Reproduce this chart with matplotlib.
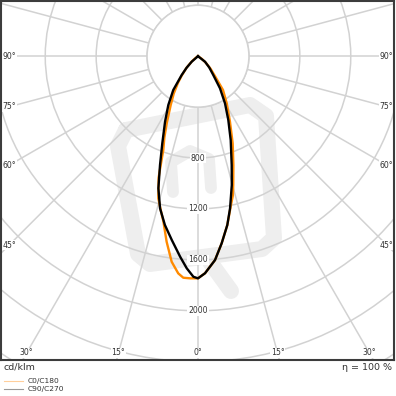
import numpy as np
import matplotlib
matplotlib.use('Agg')
from matplotlib import pyplot as plt
from matplotlib.patches import Circle

# luminous intensity in cd/klm, gamma in degrees from nadir
g_c0 = [0, 1.85, 4.77, 7.2, 9.85, 12.5, 14.0, 15.3, 18.0, 21.7, 26.0, 31.4,
        36.5, 40, 45, 50, 55, 60, 90]
i_c0 = [1745, 1706, 1607, 1482, 1346, 1197, 1130, 1049, 899, 737, 573, 433,
        330, 215, 140, 80, 35, 0, 0]
g_c180 = [0, 2.0, 3.8, 5.2, 7.3, 9.6, 11.8, 13.7, 15.6, 18.0, 20.3, 22.5, 25.0,
          29.2, 33.0, 37.0, 40, 45, 50, 55, 60, 90]
i_c180 = [1745, 1746, 1744, 1713, 1628, 1478, 1328, 1240, 1159, 1000, 786, 690,
          581, 439, 350, 260, 200, 125, 60, 20, 0, 0]
g_c90 = [0, 1.85, 4.77, 7.2, 9.85, 11.9, 14.7, 17.2, 21.3, 25.4, 29.8, 34.4,
         39.1, 45, 51.8, 60, 90]
i_c90 = [1745, 1706, 1607, 1482, 1346, 1221, 1046, 895, 707, 555, 427, 306,
         190, 125, 70, 0, 0]
g_c270 = [0, 1.2, 3.05, 5.1, 8.1, 11.1, 14.0, 16.7, 19.25, 22.3, 26.7, 31.3,
          36.2, 40.9, 44.5, 48.9, 60, 90]
i_c270 = [1745, 1733, 1668, 1581, 1459, 1351, 1232, 1083, 905, 739, 576, 449,
          329, 196, 130, 66, 0, 0]

rings = [400, 800, 1200, 1600, 2000, 2400, 2800, 3200]
ring_labels = [800, 1200, 1600, 2000]
spoke_step = 15
side_angles = [90, 75, 60, 45]
bottom_angles = [30, 15, 0]

legend_names = ['C0/C180', 'C90/C270']
unit_text = 'cd/klm'
eta_text = '\u03b7 = 100 %'

S = 0.1273  # pixels per cd/klm
CX, CY = 198.0, 56.2


def px(x, y):
    # pixel position in the picture -> data coords
    return (x - CX) / S, (CY - y) / S


def half(g, vals, side):
    g = np.radians(g)
    v = np.array(vals, dtype=float)
    return side * v * np.sin(g), -v * np.cos(g)


def wm_line(pts, lw):
    wx, wy = zip(*[px(a, b) for a, b in pts])
    ax.plot(wx, wy, color='#eeeeee', lw=lw, solid_joinstyle='round',
            solid_capstyle='round', zorder=0)


fig = plt.figure(figsize=(3.96, 3.96), dpi=100)
ax = fig.add_axes([1 / 396, 36 / 396, 393 / 396, 359 / 396])
x0, y1 = px(1, 1)
x1, y0 = px(394, 360)
ax.set_xlim(x0, x1)
ax.set_ylim(y0, y1)
ax.set_xticks([])
ax.set_yticks([])
for s in ax.spines.values():
    s.set_color('#3c3c3c')
    s.set_linewidth(1.5)
    s.set_zorder(10)

# faint logo in the background
wm_line([(126, 130), (250, 105), (266, 116), (274, 238), (262, 249),
         (150, 264), (138, 254), (118, 146), (126, 130)], 11.5)
wm_line([(173, 192), (171, 162), (190, 151), (209, 159), (211, 188)], 8.5)
wm_line([(210, 262), (231, 291)], 11.5)

# grid
grid_col = '#d2d2d2'
for a in range(0, 360, spoke_step):
    t = np.radians(a)
    ax.plot([0, 4000 * np.sin(t)], [0, -4000 * np.cos(t)], color=grid_col,
            lw=1.1, zorder=1)
for r in rings:
    ax.add_patch(Circle((0, 0), r, fill=False, ec=grid_col, lw=1.1, zorder=1))
ax.add_patch(Circle((0, 0), rings[0], fc='white', ec=grid_col, lw=1.1, zorder=2))

lab = dict(fontsize=5.6, color='#333333', ha='center', va='center', zorder=3,
           bbox=dict(boxstyle='square,pad=0.1', fc='white', ec='none'))
for r in ring_labels:
    ax.text(0, -r, str(r), **lab)

xl, _ = px(9, 0)
xr, _ = px(386.5, 0)
for a in side_angles:
    yy = 0 if a == 90 else -abs(xl) / np.tan(np.radians(a))
    ax.text(xl, yy, '%d\u00b0' % a, **lab)
    ax.text(xr, yy, '%d\u00b0' % a, **lab)
_, yb = px(0, 353)
for a in bottom_angles:
    xx = abs(yb) * np.tan(np.radians(a))
    ax.text(xx, yb, '%d\u00b0' % a, **lab)
    if a != 0:
        ax.text(-xx, yb, '%d\u00b0' % a, **lab)

# curves
lx, ly = half(g_c180, i_c180, -1)
rx, ry = half(g_c0, i_c0, 1)
ax.plot(np.r_[lx[::-1], rx], np.r_[ly[::-1], ry], color='#ff8a00', lw=1.7,
        solid_joinstyle='round', zorder=4)
lx, ly = half(g_c270, i_c270, -1)
rx, ry = half(g_c90, i_c90, 1)
ax.plot(np.r_[lx[::-1], rx], np.r_[ly[::-1], ry], color='black', lw=1.7,
        solid_joinstyle='round', zorder=5)

# texts under the frame
fig.text(4 / 396, 1 - 367 / 396, unit_text, fontsize=6.8, color='#333333', va='center')
fig.text(392 / 396, 1 - 367 / 396, eta_text, fontsize=6.8, color='#333333',
         va='center', ha='right')
leg_cols = ['#ffcf9c', '#999999']
for i, (name, col) in enumerate(zip(legend_names, leg_cols)):
    yy = 1 - (381 + i * 7.5) / 396
    fig.add_artist(plt.Line2D([4 / 396, 23 / 396], [yy, yy], color=col, lw=0.8))
    fig.text(28 / 396, yy, name, fontsize=5.4, color='#333333', va='center')

fig.savefig('out.png', dpi=100)
